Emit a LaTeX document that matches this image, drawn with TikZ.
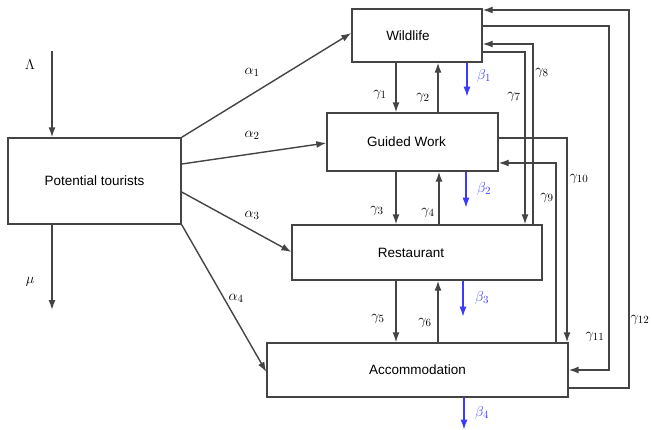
\documentclass[tikz,border=0pt]{standalone}
\usepackage{fontspec}
\newfontfamily\boxfont{Liberation Sans}
\usetikzlibrary{arrows.meta}
\definecolor{flowgray}{HTML}{444444}
\definecolor{exitblue}{HTML}{3B3BFF}
\tikzset{
  compartment/.style={draw=flowgray, line width=1.4pt, inner sep=0pt, font=\boxfont\fontsize{13.5}{16}\selectfont},
  flow/.style={draw=flowgray, line width=1.4pt, -{Latex[length=10pt,width=7pt]}},
  exit/.style={draw=exitblue, line width=1.4pt, -{Latex[length=10pt,width=7pt]}},
  rate/.style={font=\fontsize{15}{17}\selectfont, inner sep=1pt},
}
\begin{document}
\begin{tikzpicture}[x=1pt, y=-1pt]
    \useasboundingbox (0,0) rectangle (652,429);

    % compartments
    \node [compartment, minimum width=173pt, minimum height=86pt] (tour) at (94.5,181) {Potential tourists};
    \node [compartment, minimum width=130pt, minimum height=53pt] (wild) at (417,35.5) {\hspace*{-18pt}Wildlife};
    \node [compartment, minimum width=171pt, minimum height=58pt] (guided) at (412.5,142) {\hspace*{-12pt}Guided Work};
    \node [compartment, minimum width=250pt, minimum height=55pt] (rest) at (417,252.5) {\hspace*{-12pt}Restaurant};
    \node [compartment, minimum width=301pt, minimum height=54pt] (accom) at (417.5,370) {Accommodation};

    % recruitment and natural exit
    \coordinate (lam) at (52,51);
    \coordinate (mu) at (52,310);
    \draw [flow] (lam) -- (52,0 |- tour.north);
    \draw [flow] (52,0 |- tour.south) -- (mu);
    \node [rate] (lamlab) at (30,65) {$\Lambda$};
    \node [rate] (mulab) at (30,282) {$\mu$};

    % entry into activities
    \draw [flow] (tour.north east) -- (wild.west |- 0,33);
    \draw [flow] (tour.east |- 0,164) -- (guided.west |- 0,143);
    \draw [flow] (tour.east |- 0,192) -- (rest.west |- 0,252);
    \draw [flow] (tour.south east) -- (accom.west |- 0,372);
    \node [rate] (a1) at (252,72) {$\alpha_1$};
    \node [rate] (a2) at (252,135) {$\alpha_2$};
    \node [rate] (a3) at (252,215) {$\alpha_3$};
    \node [rate] (a4) at (236,298) {$\alpha_4$};

    % neighbouring transfers
    \draw [flow] (396,0 |- wild.south) -- (396,0 |- guided.north);
    \draw [flow] (438,0 |- guided.north) -- (438,0 |- wild.south);
    \draw [flow] (396,0 |- guided.south) -- (396,0 |- rest.north);
    \draw [flow] (439,0 |- rest.north) -- (439,0 |- guided.south);
    \draw [flow] (396,0 |- rest.south) -- (396,0 |- accom.north);
    \draw [flow] (438,0 |- accom.north) -- (438,0 |- rest.south);
    \node [rate] (g1) at (380,95) {$\gamma_1$};
    \node [rate] (g2) at (423,98) {$\gamma_2$};
    \node [rate] (g3) at (377,211) {$\gamma_3$};
    \node [rate] (g4) at (428,213) {$\gamma_4$};
    \node [rate] (g5) at (378,319) {$\gamma_5$};
    \node [rate] (g6) at (425,323) {$\gamma_6$};

    % leaving the activities
    \draw [exit] (467,0 |- wild.south) -- ++(0,34);
    \draw [exit] (466,0 |- guided.south) -- ++(0,36);
    \draw [exit] (463,0 |- rest.south) -- ++(0,36);
    \draw [exit] (464,0 |- accom.south) -- ++(0,32);
    \node [rate, text=exitblue] (b1) at (484,76) {$\beta_1$};
    \node [rate, text=exitblue] (b2) at (484,189) {$\beta_2$};
    \node [rate, text=exitblue] (b3) at (482,298) {$\beta_3$};
    \node [rate, text=exitblue] (b4) at (482,413) {$\beta_4$};

    % long-range transfers
    \draw [flow] (wild.east |- 0,52) -| (525,0 |- rest.north);
    \draw [flow] (533,0 |- rest.north) |- (wild.east |- 0,44);
    \draw [flow] (556,0 |- accom.north) |- (guided.east |- 0,163);
    \draw [flow] (guided.east |- 0,138) -| (567,0 |- accom.north);
    \draw [flow] (wild.east |- 0,26) -| (609,370) -- (accom.east |- 0,370);
    \draw [flow] (accom.east |- 0,388) -| (629,10) -- (wild.east |- 0,10);
    \node [rate] (g7) at (514,97) {$\gamma_7$};
    \node [rate] (g8) at (542,73) {$\gamma_8$};
    \node [rate] (g9) at (547,198) {$\gamma_9$};
    \node [rate] (g10) at (579,179) {$\gamma_{10}$};
    \node [rate] (g11) at (595,337) {$\gamma_{11}$};
    \node [rate] (g12) at (640,320) {$\gamma_{12}$};
\end{tikzpicture}
\end{document}
